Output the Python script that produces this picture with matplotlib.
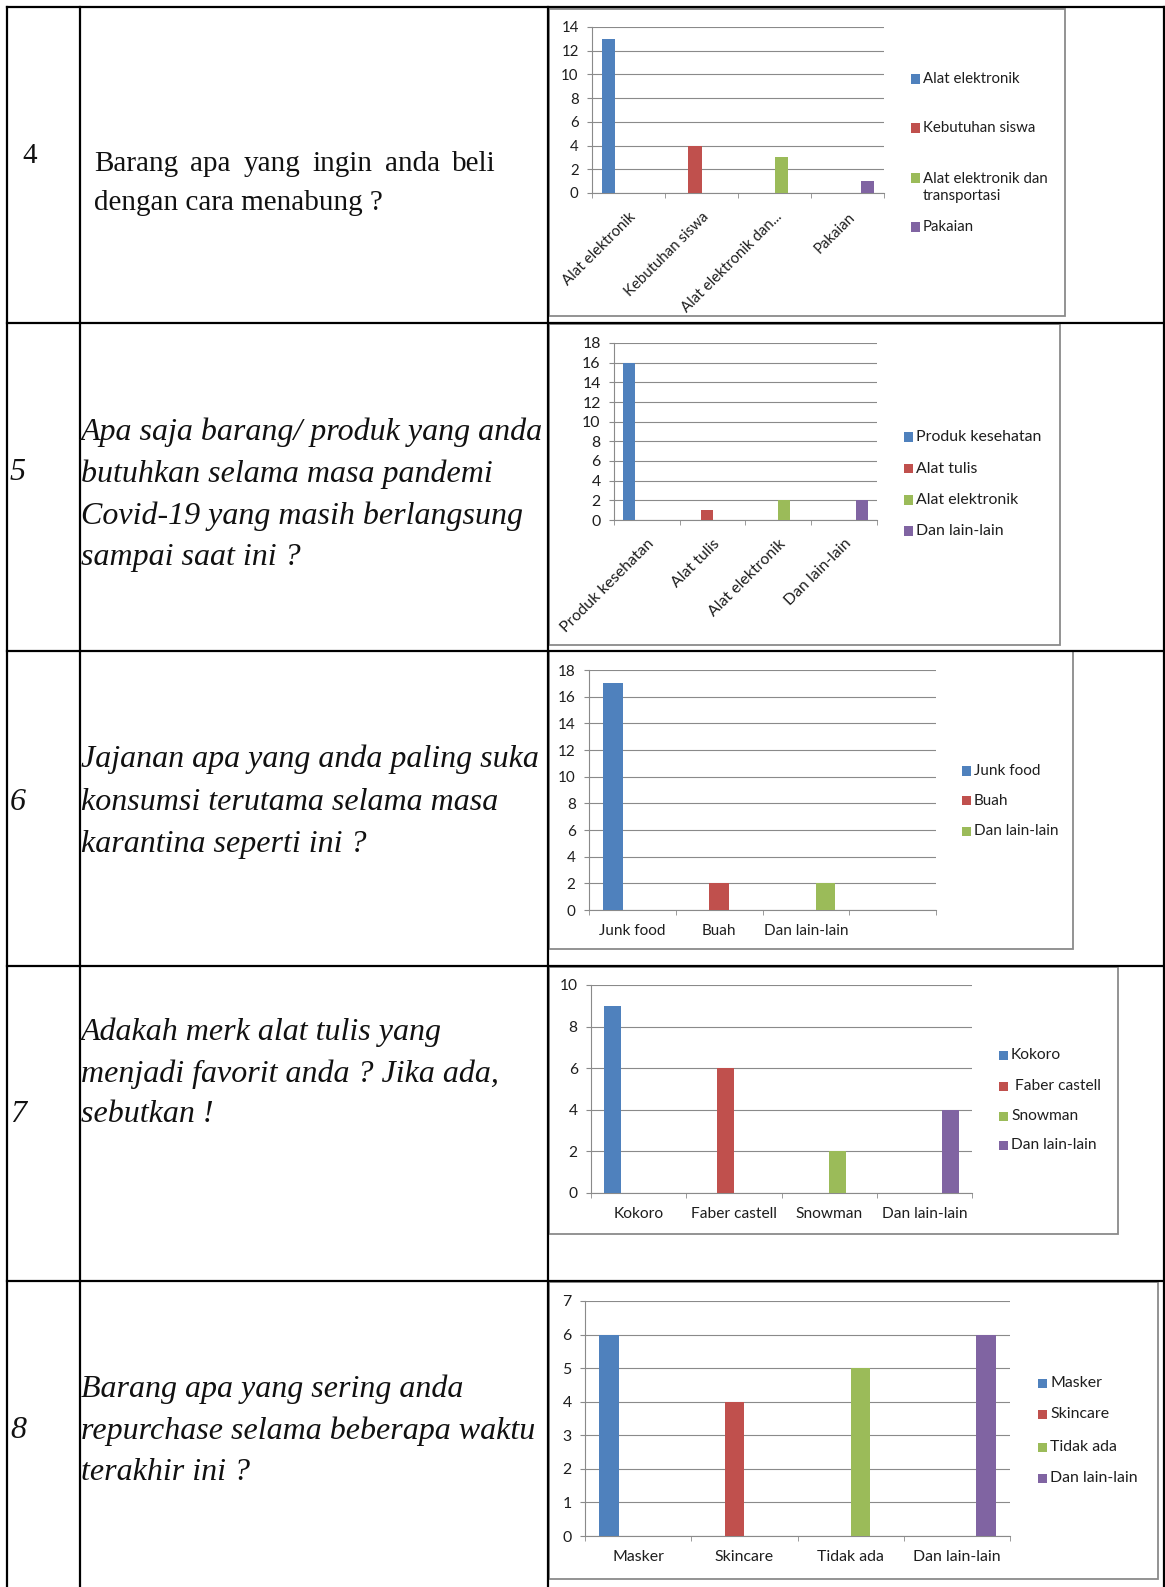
import numpy as np
import matplotlib
matplotlib.use('Agg')
import matplotlib.pyplot as plt
from matplotlib.patches import Rectangle

W, H = 1165, 1587

# ---- question column ----
numbers = ['4', '5', '6', '7', '8']
q4_lines = ['Barang apa yang ingin anda beli', 'dengan cara menabung ?']
q5_lines = ['Apa saja barang/ produk yang anda', 'butuhkan selama masa pandemi',
            'Covid-19 yang masih berlangsung', 'sampai saat ini ?']
q6_lines = ['Jajanan apa yang anda paling suka', 'konsumsi terutama selama masa',
            'karantina seperti ini ?']
q7_lines = ['Adakah merk alat tulis yang', 'menjadi favorit anda ? Jika ada,',
            'sebutkan !']
q8_lines = ['Barang apa yang sering anda', 'repurchase selama beberapa waktu',
            'terakhir ini ?']

# ---- chart data ----
c1_categories = ['Alat elektronik', 'Kebutuhan siswa', 'Alat elektronik dan...', 'Pakaian']
c1_series = ['Alat elektronik', 'Kebutuhan siswa', 'Alat elektronik dan\ntransportasi', 'Pakaian']
c1_counts = [13, 4, 3, 1]
c1_yticks = [0, 2, 4, 6, 8, 10, 12, 14]

c2_categories = ['Produk kesehatan', 'Alat tulis', 'Alat elektronik', 'Dan lain-lain']
c2_series = ['Produk kesehatan', 'Alat tulis', 'Alat elektronik', 'Dan lain-lain']
c2_counts = [16, 1, 2, 2]
c2_yticks = [0, 2, 4, 6, 8, 10, 12, 14, 16, 18]

c3_categories = ['Junk food', 'Buah', 'Dan lain-lain', '']
c3_series = ['Junk food', 'Buah', 'Dan lain-lain']
c3_counts = [17, 2, 2]
c3_yticks = [0, 2, 4, 6, 8, 10, 12, 14, 16, 18]

c4_categories = ['Kokoro', 'Faber castell', 'Snowman', 'Dan lain-lain']
c4_series = ['Kokoro', ' Faber castell', 'Snowman', 'Dan lain-lain']
c4_counts = [9, 6, 2, 4]
c4_yticks = [0, 2, 4, 6, 8, 10]

c5_categories = ['Masker', 'Skincare', 'Tidak ada', 'Dan lain-lain']
c5_series = ['Masker', 'Skincare', 'Tidak ada', 'Dan lain-lain']
c5_counts = [6, 4, 5, 6]
c5_yticks = [0, 1, 2, 3, 4, 5, 6, 7]

COLORS = ['#4F81BD', '#C0504D', '#9BBB59', '#8064A2']
GRID = '#8a8a8a'
TXT = '#1e1e1e'
SANS = 'Lato'
SERIF = 'Liberation Serif'

fig = plt.figure(figsize=(W / 100, H / 100), dpi=100)


def fx(x):
    return x / W


def fy(y):
    return 1 - y / H


def hline(x0, x1, y, **kw):
    fig.add_artist(plt.Line2D([fx(x0), fx(x1)], [fy(y), fy(y)], transform=fig.transFigure, **kw))


def vline(x, y0, y1, **kw):
    fig.add_artist(plt.Line2D([fx(x), fx(x)], [fy(y0), fy(y1)], transform=fig.transFigure, **kw))


# table grid
rows_y = [7, 323, 651, 966, 1281]
for y in rows_y:
    hline(7, 1164, y, color='black', lw=1.6)
for x in [7, 80, 547.5, 1164]:
    vline(x, 7, H, color='black', lw=1.6)


def chart(box, plot, categories, series, counts, yticks, leg_x, leg_ys, rotate, fs):
    fig.add_artist(Rectangle((fx(box[0]), fy(box[3])), (box[2] - box[0]) / W,
                             (box[3] - box[1]) / H, transform=fig.transFigure,
                             fill=False, ec=GRID, lw=1.3))
    ax = fig.add_axes([fx(plot[0]), fy(plot[3]), (plot[2] - plot[0]) / W,
                       (plot[3] - plot[1]) / H])
    n = len(series)
    width = 1 / (n + 1.5)
    x = np.arange(len(categories))
    for i, v in enumerate(counts):
        heights = [v if j == i else 0 for j in range(len(categories))]
        ax.bar(x + (i - (n - 1) / 2) * width, heights, width, color=COLORS[i], zorder=3)
    ax.set_xlim(-0.5, len(categories) - 0.5)
    ax.set_ylim(yticks[0], yticks[-1])
    ax.set_yticks(yticks)
    ax.yaxis.grid(True, color=GRID, lw=0.8)
    ax.set_axisbelow(True)
    for s in ['top', 'right']:
        ax.spines[s].set_visible(False)
    for s in ['left', 'bottom']:
        ax.spines[s].set_color(GRID)
        ax.spines[s].set_linewidth(0.8)
    ax.tick_params(axis='y', length=3.6, color=GRID, pad=6, labelsize=fs,
                   labelcolor=TXT)
    ax.set_xticks(x)
    ax.set_xticks(np.arange(len(categories) + 1) - 0.5, minor=True)
    ax.tick_params(axis='x', which='major', length=0, pad=10, labelsize=fs,
                   labelcolor=TXT)
    ax.tick_params(axis='x', which='minor', length=3.6, color=GRID)
    if rotate:
        ax.set_xticklabels(categories, rotation=45, ha='right', rotation_mode='anchor')
        ax.tick_params(axis='x', which='major', pad=12)
    else:
        ax.set_xticklabels(categories)
    for lab in ax.get_xticklabels() + ax.get_yticklabels():
        lab.set_family(SANS)
    # legend
    for i, (name, ly) in enumerate(zip(series, leg_ys)):
        fig.add_artist(Rectangle((fx(leg_x), fy(ly + 4.5)), 9 / W, 9 / H,
                                 transform=fig.transFigure, color=COLORS[i], lw=0))
        nl = name.count('\n')
        fig.text(fx(leg_x + 12), fy(ly + nl * 9.5), name, ha='left', va='center',
                 fontsize=fs, family=SANS, color=TXT, linespacing=1.3)
    return ax


chart((549, 9, 1065, 316), (592, 27, 884, 193), c1_categories, c1_series, c1_counts,
      c1_yticks, 911, [79, 128, 178, 227], True, 10.8)
chart((549, 324, 1060, 645), (614, 343, 877, 520), c2_categories, c2_series, c2_counts,
      c2_yticks, 904, [437, 469, 500, 531], True, 11.4)
chart((549, 651, 1073, 949), (589, 670, 936, 910), c3_categories, c3_series, c3_counts,
      c3_yticks, 962, [771, 801, 831], False, 11)
chart((549, 967, 1118, 1234), (591, 985, 972, 1193), c4_categories, c4_series, c4_counts,
      c4_yticks, 999, [1055, 1086, 1116, 1145], False, 11.2)
chart((549, 1282, 1158, 1579), (585, 1301, 1010, 1536), c5_categories, c5_series, c5_counts,
      c5_yticks, 1038, [1383, 1414, 1447, 1478], False, 11.4)


# question texts
def justified(words, x0, x1, y, **kw):
    r = fig.canvas.get_renderer()
    arts = [fig.text(0, fy(y), w, va='center', ha='left', **kw) for w in words]
    widths = [a.get_window_extent(r).width for a in arts]
    gap = (x1 - x0 - sum(widths)) / (len(words) - 1)
    xx = x0
    for a, wd in zip(arts, widths):
        a.set_x(fx(xx))
        xx += wd + gap


reg = dict(family=SERIF, fontsize=21, color='#111111')
ital = dict(family=SERIF, fontsize=23, style='italic', color='#111111')

fig.text(fx(22), fy(156), numbers[0], ha='left', va='center', **reg)
justified(q4_lines[0].split(), 94, 496, 164, **reg)
fig.text(fx(94), fy(203), q4_lines[1], ha='left', va='center', **reg)

blocks = [(q5_lines, [432, 474, 516, 557], 472),
          (q6_lines, [759, 802, 844], 802),
          (q7_lines, [1032, 1074, 1115], 1115),
          (q8_lines, [1389, 1431, 1472], 1431)]
for num, (lines, ys, ny) in zip(numbers[1:], blocks):
    fig.text(fx(10), fy(ny), num, ha='left', va='center', **ital)
    for line, y in zip(lines, ys):
        fig.text(fx(81), fy(y), line, ha='left', va='center', **ital)

fig.savefig('out.png', dpi=100)
